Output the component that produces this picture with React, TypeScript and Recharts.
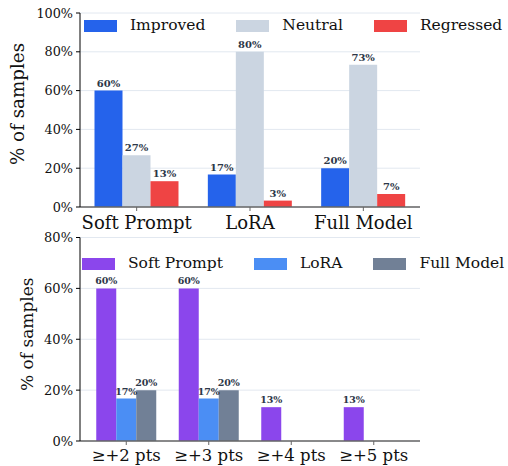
import React from 'react';
import { BarChart, Bar, XAxis, YAxis, CartesianGrid, LabelList, Label } from 'recharts';

const topCategories = ['Soft Prompt', 'LoRA', 'Full Model'];
const improved = [60, 16.7, 20];
const neutral = [26.7, 80, 73.3];
const regressed = [13.3, 3.3, 6.7];
const topTicks = [0, 20, 40, 60, 80, 100];
const topSeries = [
  { key: 'improved', name: 'Improved', color: '#2563eb', values: improved },
  { key: 'neutral', name: 'Neutral', color: '#cbd5e1', values: neutral },
  { key: 'regressed', name: 'Regressed', color: '#ef4444', values: regressed },
];

const thresholds = ['≥+2 pts', '≥+3 pts', '≥+4 pts', '≥+5 pts'];
const softPrompt = [60, 60, 13.3, 13.3];
const lora = [16.7, 16.7, 0, 0];
const fullModel = [20, 20, 0, 0];
const bottomTicks = [0, 20, 40, 60, 80];
const bottomSeries = [
  { key: 'soft', name: 'Soft Prompt', color: '#8b46ec', values: softPrompt },
  { key: 'lora', name: 'LoRA', color: '#4b8ef4', values: lora },
  { key: 'full', name: 'Full Model', color: '#718096', values: fullModel },
];

const FONT = '"DejaVu Serif", serif';

const topData = topCategories.map((c, i) => {
  const row: any = { cat: c };
  topSeries.forEach((s) => (row[s.key] = s.values[i]));
  return row;
});
const bottomData = thresholds.map((c, i) => {
  const row: any = { cat: c };
  bottomSeries.forEach((s) => (row[s.key] = s.values[i]));
  return row;
});

const fmt = (v: any) => (v > 0 ? `${Math.round(v)}%` : '');

const yLabel = (baselineX: number, shiftY: number, size: number) => (props: any) => {
  const vb = props.viewBox;
  const cy = vb.y + vb.height / 2 + shiftY;
  return (
    <text
      x={baselineX}
      y={cy}
      transform={`rotate(-90, ${baselineX}, ${cy})`}
      textAnchor="middle"
      fontFamily={FONT}
      fontSize={size}
      fill="#111"
    >
      % of samples
    </text>
  );
};

const LegendRow = ({ items, top, left, fontSize, swH }: any) => (
  <div
    style={{
      position: 'absolute',
      top,
      left,
      display: 'flex',
      alignItems: 'center',
      fontFamily: FONT,
      fontSize,
      color: '#111',
      whiteSpace: 'nowrap',
      lineHeight: 1,
    }}
  >
    {items.map((s: any) => (
      <div key={s.key} style={{ display: 'flex', alignItems: 'center', marginRight: 31 }}>
        <div style={{ width: 33, height: swH, background: s.color, marginRight: 13 }} />
        <span>{s.name}</span>
      </div>
    ))}
  </div>
);

export default function App() {
  return (
    <div style={{ position: 'absolute', top: 0, left: 0, width: 508, height: 466, background: '#fff' }}>
      <div style={{ position: 'absolute', top: 0, left: 0 }}>
        <BarChart
          width={508}
          height={240}
          data={topData}
          margin={{ top: 13, right: 88, left: 0, bottom: 10 }}
          barCategoryGap={14.5}
          barGap={0}
        >
          <CartesianGrid vertical={false} stroke="#e2e8f0" strokeWidth={1} />
          <XAxis
            dataKey="cat"
            height={23}
            tickSize={4}
            tickMargin={5}
            axisLine={{ stroke: '#666', strokeWidth: 1.6 }}
            tickLine={{ stroke: '#666' }}
            tick={{ fontFamily: FONT, fontSize: 18, fill: '#111' }}
            interval={0}
          />
          <YAxis
            width={80}
            domain={[0, 100]}
            ticks={topTicks}
            tickFormatter={(v: any) => `${v}%`}
            tickSize={4}
            tickMargin={3}
            axisLine={{ stroke: '#000' }}
            tickLine={{ stroke: '#000' }}
            tick={{ fontFamily: FONT, fontSize: 12.8, fill: '#111' }}
          >
            <Label content={yLabel(24, -6, 18.3)} />
          </YAxis>
          {topSeries.map((s) => (
            <Bar key={s.key} dataKey={s.key} name={s.name} fill={s.color} isAnimationActive={false}>
              <LabelList
                dataKey={s.key}
                position="top"
                offset={4}
                formatter={fmt}
                style={{ fontFamily: FONT, fontSize: 10, fontWeight: 'bold', fill: '#2d3748' }}
              />
            </Bar>
          ))}
        </BarChart>
      </div>
      <LegendRow items={topSeries} top={18} left={84} fontSize={15.5} swH={12} />

      <div style={{ position: 'absolute', top: 225, left: 0 }}>
        <BarChart
          width={508}
          height={241}
          data={bottomData}
          margin={{ top: 12.5, right: 88, left: 0, bottom: 0 }}
          barCategoryGap={11.25}
          barGap={0}
        >
          <CartesianGrid vertical={false} stroke="#e2e8f0" strokeWidth={1} />
          <XAxis
            dataKey="cat"
            height={25}
            padding={{ left: 5, right: 5 }}
            tickSize={4}
            tickMargin={4}
            axisLine={{ stroke: '#666', strokeWidth: 1.6 }}
            tickLine={{ stroke: '#666' }}
            tick={{ fontFamily: FONT, fontSize: 16.5, fill: '#111' }}
            interval={0}
          />
          <YAxis
            width={80}
            domain={[0, 80]}
            ticks={bottomTicks}
            tickFormatter={(v: any) => `${v}%`}
            tickSize={4}
            tickMargin={3}
            axisLine={{ stroke: '#000' }}
            tickLine={{ stroke: '#000' }}
            tick={{ fontFamily: FONT, fontSize: 13, fill: '#111' }}
          >
            <Label content={yLabel(33, -5, 17)} />
          </YAxis>
          {bottomSeries.map((s) => (
            <Bar key={s.key} dataKey={s.key} name={s.name} fill={s.color} isAnimationActive={false}>
              <LabelList
                dataKey={s.key}
                position="top"
                offset={4}
                formatter={fmt}
                style={{ fontFamily: FONT, fontSize: 9.5, fontWeight: 'bold', fill: '#2d3748' }}
              />
            </Bar>
          ))}
        </BarChart>
      </div>
      <LegendRow items={bottomSeries} top={225 + 31} left={82} fontSize={15.5} swH={12.5} />
    </div>
  );
}
